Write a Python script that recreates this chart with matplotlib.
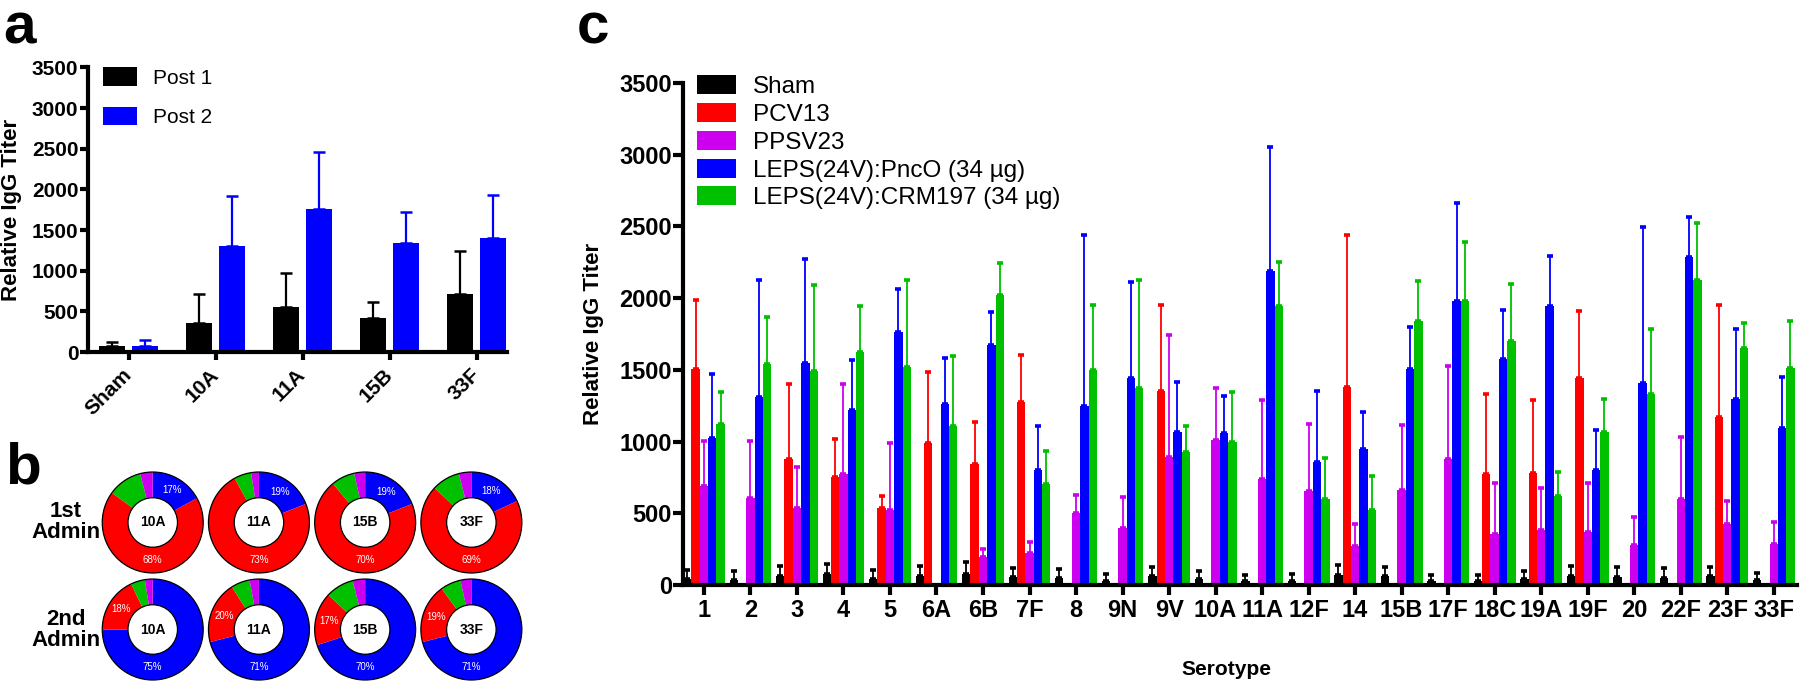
import numpy as np
import matplotlib
matplotlib.use("Agg")
import matplotlib.pyplot as plt
from matplotlib import font_manager
from matplotlib.patches import Circle

plt.rcParams['font.family'] = ['Liberation Sans', 'DejaVu Sans']
installed = {f.name for f in font_manager.fontManager.ttflist}
NARROW = 'Liberation Sans Narrow' if 'Liberation Sans Narrow' in installed else 'Liberation Sans'

RED, PURPLE, BLUE, GREEN = '#FF0000', '#CC00EE', '#0000FF', '#00C000'

# ---- panel a ----
a_groups = ['Sham', '10A', '11A', '15B', '33F']
post1_mean = [70, 360, 557, 414, 708]
post1_err = [55, 352, 410, 196, 533]
post2_mean = [75, 1302, 1757, 1347, 1400]
post2_err = [75, 614, 704, 373, 535]

# ---- panel b ----
donut_sero = ['10A', '11A', '15B', '33F']
admin1_blue = [17, 19, 19, 18]
admin1_red = [68, 73, 70, 69]
admin1_green = [11, 5.5, 7.5, 9]
admin1_purple = [4, 2.5, 3.5, 4]
admin2_blue = [75, 71, 70, 71]
admin2_red = [18, 20, 17, 19]
admin2_green = [4.5, 6, 9, 6.5]
admin2_purple = [2.5, 3, 4, 3.5]

# ---- panel c ----
serotypes = ['1', '2', '3', '4', '5', '6A', '6B', '7F', '8', '9N', '9V', '10A',
             '11A', '12F', '14', '15B', '17F', '18C', '19A', '19F', '20', '22F', '23F', '33F']
nan = np.nan
sham_mean = [45, 35, 65, 75, 40, 65, 75, 55, 50, 30, 60, 40, 25, 30, 70, 60, 25, 25, 40, 60, 55, 50, 60, 35]
sham_err = [60, 63, 70, 74, 65, 70, 88, 61, 62, 49, 66, 55, 42, 44, 70, 68, 45, 42, 55, 70, 71, 66, 66, 51]
pcv13_mean = [1507, nan, 879, 756, 540, 993, 842, 1279, nan, nan, 1351, nan, nan, nan, 1381, nan, nan,
              777, 781, 1442, nan, nan, 1174, nan]
pcv13_err = [477, nan, 521, 260, 83, 491, 293, 326, nan, nan, 602, nan, nan, nan, 1059, nan, nan,
             553, 507, 465, nan, nan, 779, nan]
ppsv23_mean = [693, 605, 535, 774, 523, nan, 193, 221, 505, 400, 895, 1009, 737, 656, 272, 660, 881,
               353, 381, 372, 279, 598, 428, 284]
ppsv23_err = [314, 402, 291, 626, 470, nan, 58, 81, 121, 216, 849, 363, 554, 465, 151, 456, 649,
              356, 298, 337, 195, 437, 158, 156]
pnco_mean = [1028, 1314, 1549, 1221, 1767, 1260, 1670, 802, 1249, 1442, 1067, 1063, 2188, 858, 947,
             1509, 1980, 1574, 1947, 805, 1407, 2284, 1295, 1098]
pnco_err = [444, 814, 723, 349, 296, 326, 232, 310, 1193, 672, 345, 256, 868, 493, 262, 291, 684,
            345, 348, 276, 1091, 279, 489, 353]
crm_mean = [1121, 1540, 1493, 1623, 1519, 1109, 2021, 705, 1502, 1374, 928, 1000, 1942, 598, 526,
            1842, 1981, 1702, 623, 1070, 1335, 2126, 1651, 1512]
crm_err = [226, 332, 600, 324, 609, 491, 223, 232, 449, 752, 181, 347, 307, 290, 232, 279, 412,
           400, 163, 225, 451, 397, 175, 330]
c_series = [('Sham', 'black', sham_mean, sham_err),
            ('PCV13', RED, pcv13_mean, pcv13_err),
            ('PPSV23', PURPLE, ppsv23_mean, ppsv23_err),
            ('LEPS(24V):PncO (34 µg)', BLUE, pnco_mean, pnco_err),
            ('LEPS(24V):CRM197 (34 µg)', GREEN, crm_mean, crm_err)]

W, H = 1800, 688


def box(x0, y0, x1, y1):
    # pixel box (top-left origin) -> figure fraction rect
    return [x0 / W, 1 - y1 / H, (x1 - x0) / W, (y1 - y0) / H]


def style_axis(ax, size):
    for s in ['top', 'right']:
        ax.spines[s].set_visible(False)
    for s in ['left', 'bottom']:
        ax.spines[s].set_linewidth(3)
    ax.tick_params(width=3, length=6, direction='out', labelsize=size, pad=1)
    for lab in ax.get_yticklabels():
        lab.set_fontweight('bold')


fig = plt.figure(figsize=(W / 100, H / 100), dpi=100)

# panel a
ax = fig.add_axes(box(88, 67.5, 507, 352))
xa = np.arange(len(a_groups))
ax.bar(xa - 0.19, post1_mean, 0.3, color='black', label='Post 1')
ax.bar(xa + 0.19, post2_mean, 0.3, color=BLUE, label='Post 2')
ax.errorbar(xa - 0.19, post1_mean, yerr=[np.zeros(len(xa)), post1_err], fmt='none',
            ecolor='black', elinewidth=1.6, capsize=4.5, capthick=1.8)
ax.errorbar(xa + 0.19, post2_mean, yerr=[np.zeros(len(xa)), post2_err], fmt='none',
            ecolor=BLUE, elinewidth=1.6, capsize=4.5, capthick=1.8)
ax.set_xlim(-0.47, 4.35)
ax.set_ylim(0, 3500)
ax.set_yticks(np.arange(0, 3501, 500))
ax.set_xticks(xa)
style_axis(ax, 15)
ax.set_xticklabels(a_groups, rotation=45, ha='right', va='center', rotation_mode='anchor',
                   fontweight='bold', fontsize=15)
ax.tick_params(axis='x', pad=8)
ax.set_ylabel('Relative IgG Titer', fontsize=16, fontweight='bold')
ax.yaxis.set_label_coords(-0.158, 0.5)
ax.legend(loc='upper left', bbox_to_anchor=(0.036, 1.0), borderaxespad=0, borderpad=0,
          frameon=False, fontsize=15, handlelength=1.63, handleheight=1.0,
          handletextpad=0.75, labelspacing=0.9)

# panel b
axb = fig.add_axes(box(100, 471, 524, 681))
rows = [(admin1_blue, admin1_red, admin1_green, admin1_purple),
        (admin2_blue, admin2_red, admin2_green, admin2_purple)]
for r, (blue, red, green, purple) in enumerate(rows):
    for c in range(len(donut_sero)):
        cx, cy = c * 2.104, -r * 2.12
        vals = [blue[c], red[c], green[c], purple[c]]
        axb.pie(vals, colors=[BLUE, RED, GREEN, PURPLE], startangle=90, counterclock=False,
                radius=1, center=(cx, cy), wedgeprops=dict(width=0.51, linewidth=0), frame=True)
        axb.add_patch(Circle((cx, cy), 1, fill=False, ec='black', lw=0.9))
        axb.add_patch(Circle((cx, cy), 0.49, fill=False, ec='black', lw=0.9))
        axb.text(cx, cy, donut_sero[c], ha='center', va='center', fontsize=10, fontweight='bold')
        total = sum(vals)
        start = 0
        for v in vals[:2]:
            frac = v / total
            mid = start + frac / 2 if frac < 0.5 else 0.5
            th = np.deg2rad(90 - 360 * mid)
            axb.text(cx + 0.74 * np.cos(th), cy + 0.74 * np.sin(th), f'{v:g}%', ha='center',
                     va='center', fontsize=7, color='white')
            start += frac
    axb.text(-1.72, -r * 2.12, ['1st', '2nd'][r] + '\nAdmin', ha='center', va='center',
             fontsize=16, fontweight='bold', linespacing=1.0)
axb.set_xlim(-1.02, 7.33)
axb.set_ylim(-3.14, 1.02)
axb.set_aspect('equal')
axb.axis('off')

# panel c
axc = fig.add_axes(box(683, 83, 1797, 585))
xc = np.arange(len(serotypes))
width = 0.18
for i, (name, col, mean, err) in enumerate(c_series):
    xs = xc + (i - 2) * width
    axc.bar(xs, mean, width, color=col, label=name)
    axc.errorbar(xs, mean, yerr=[np.zeros(len(xs)), err], fmt='none', ecolor=col,
                 elinewidth=1.3, capsize=2.4, capthick=2.6)
axc.set_xlim(-0.45, 23.5)
axc.set_ylim(0, 3500)
axc.set_yticks(np.arange(0, 3501, 500))
axc.set_xticks(xc)
style_axis(axc, 17)
axc.tick_params(length=7)
axc.set_xticklabels(serotypes, fontsize=17, fontweight='bold', family=NARROW)
axc.tick_params(axis='x', pad=3)
axc.set_ylabel('Relative IgG Titer', fontsize=16, fontweight='bold')
axc.yaxis.set_label_coords(-0.071, 0.5)
axc.set_xlabel('Serotype', fontsize=15, fontweight='bold', family=NARROW)
axc.xaxis.set_label_coords(0.488, -0.15)
axc.legend(loc='upper left', bbox_to_anchor=(0.0126, 1.015), borderaxespad=0, borderpad=0,
           frameon=False, fontsize=17.5, handlelength=1.6, handleheight=0.82,
           handletextpad=0.7, labelspacing=0.2)

fig.text(3 / W, 1 - 43 / H, 'a', fontsize=42, fontweight='bold', va='baseline')
fig.text(5 / W, 1 - 483 / H, 'b', fontsize=42, fontweight='bold', va='baseline')
fig.text(577 / W, 1 - 43 / H, 'c', fontsize=42, fontweight='bold', va='baseline')

fig.savefig('out.png', dpi=100)
